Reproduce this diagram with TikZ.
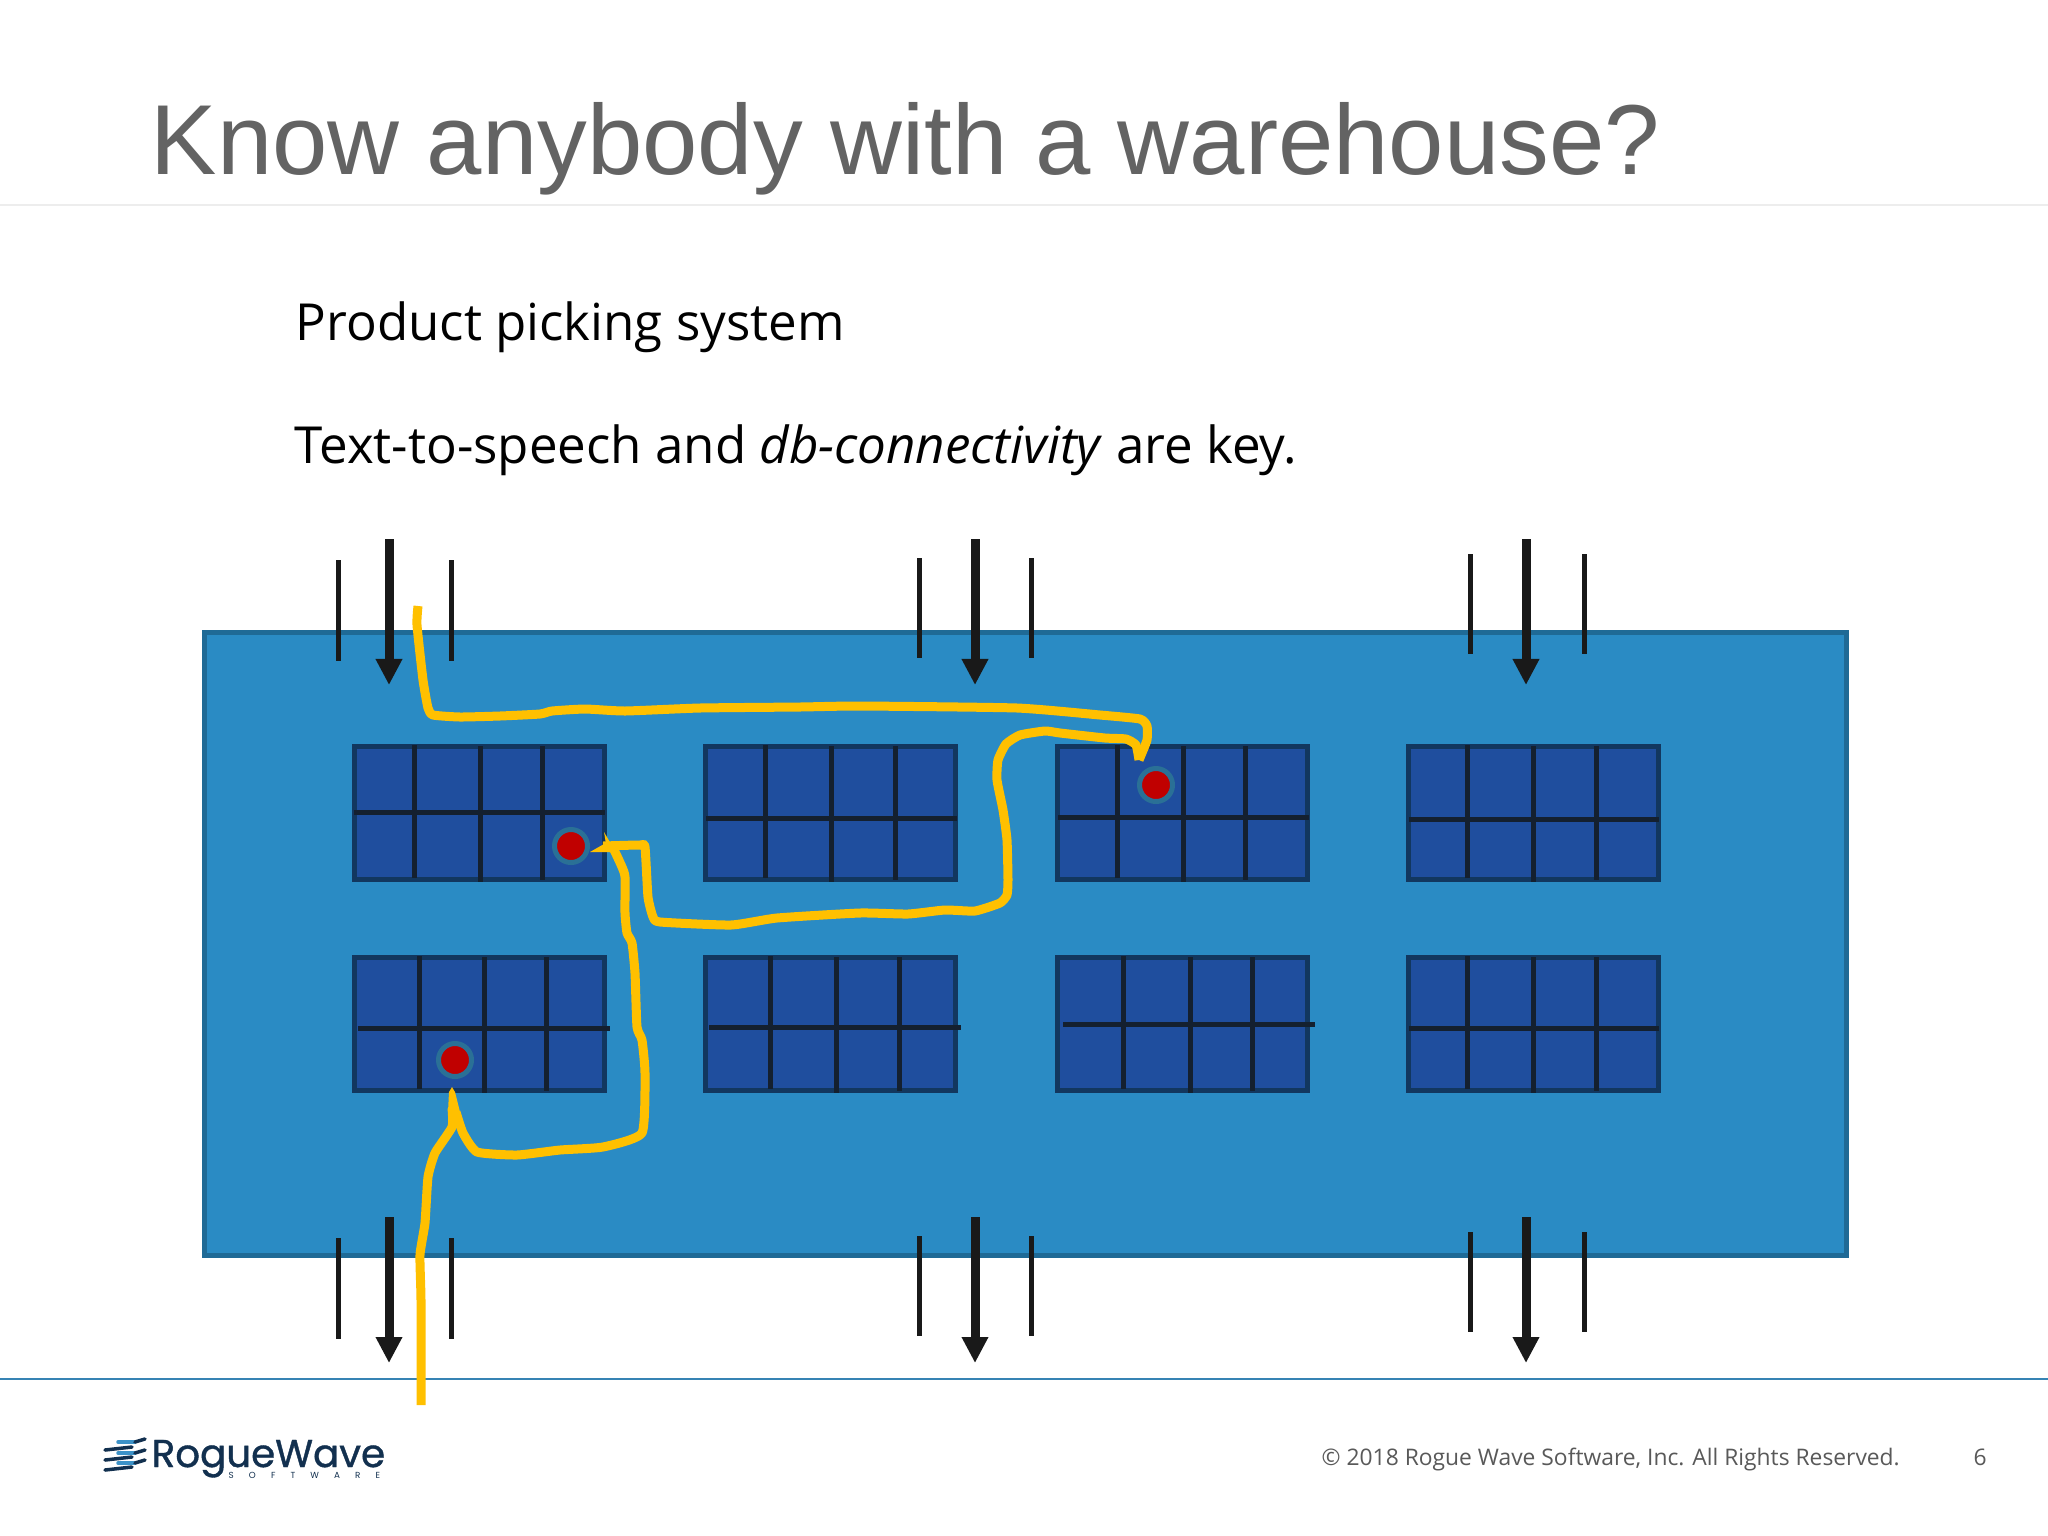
\documentclass[tikz,border=0pt]{standalone}
\usepackage{xcolor}
\usepackage{fontspec}
\usepackage{tikz}
\usetikzlibrary{arrows.meta}
\setmainfont{Open Sans}
\newfontfamily\titlefont{Liberation Sans}
\newfontfamily\logofont{Poppins}
\definecolor{floorblue}{HTML}{2A8BC4}
\definecolor{flooredge}{HTML}{1F6A96}
\definecolor{rackblue}{HTML}{1F4E9E}
\definecolor{rackedge}{HTML}{12375F}
\definecolor{rackline}{HTML}{14202F}
\definecolor{routeyellow}{HTML}{FFC000}
\definecolor{dotred}{HTML}{C00000}
\definecolor{dothalo}{HTML}{2A7096}
\definecolor{titlegray}{HTML}{636363}
\definecolor{footgray}{HTML}{595959}
\definecolor{logonavy}{HTML}{12304F}
\definecolor{logolight}{HTML}{3C92C8}
\tikzset{
	rackbox/.style={draw=rackedge,fill=rackblue,line width=0.05cm,minimum width=2.5cm,minimum height=1.33cm,inner sep=0pt,anchor=north west},
	rackgrid/.style={draw=rackline,line width=0.05cm},
	sideline/.style={draw=black!90,line width=0.05cm},
	bigarrow/.style={draw=black!90,line width=0.09cm,-{Triangle[length=2.6mm,width=2.5mm]}},
	route/.style={draw=routeyellow,line width=0.09cm,line join=round},
	pickdot/.style={circle,fill=dotred,draw=dothalo,line width=0.05cm,minimum size=0.33cm,inner sep=0pt},
	logowave/.style={line width=0.035cm,line cap=round},
}
\begin{document}
\begin{tikzpicture}[x=0.01cm,y=-0.01cm]
	\useasboundingbox (0,0) rectangle (2048,1536);
	\fill[white] (0,0) rectangle (2048,1536);
	
	\draw[black!7,line width=0.02cm] (0,205) -- (2048,205);
	\node[anchor=base west,inner sep=0pt,text=titlegray,font=\titlefont\fontsize{28.28pt}{30pt}\selectfont] (title) at (150,174) {Know anybody with a warehouse?};
	\node[anchor=base west,inner sep=0pt,font=\fontsize{14.52pt}{16pt}\selectfont] (bodyone) at (295,340) {Product picking system};
	\node[anchor=base west,inner sep=0pt,font=\fontsize{14.52pt}{16pt}\selectfont] (bodytwo) at (294,463) {Text-to-speech and \textit{db-connectivity} are key.};
	
	\draw[draw=flooredge,fill=floorblue,line width=0.05cm] (204,632) rectangle (1846,1255);
	
	% racks: x, y, three uprights, shelf, shelf ends
	\foreach \rname/\rx/\ry/\va/\vb/\vc/\sy/\sa/\sb in {
		rackA/352/744/414/480/542/812/354/605,
		rackB/703/744/765/831/895/818/706/957,
		rackC/1055/744/1117/1183/1245/817/1058/1309,
		rackD/1406/744/1467/1533/1596/819/1409/1659,
		rackE/352/955/419/484/546/1028/358/610,
		rackF/703/955/770/836/899/1027/709/961,
		rackG/1055/955/1123/1190/1252/1024/1063/1315,
		rackH/1406/955/1467/1533/1596/1028/1409/1659}{
		\node[rackbox] (\rname) at (\rx,\ry) {};
		\draw[rackgrid] (\va,\ry+1) -- (\va,\ry+134);
		\draw[rackgrid] (\vb,\ry+2) -- (\vb,\ry+138);
		\draw[rackgrid] (\vc,\ry+2) -- (\vc,\ry+136);
		\draw[rackgrid] (\sa,\sy) -- (\sb,\sy);
	}
	
	% dock doors
	\foreach \ax/\la/\lb/\ta/\tb/\ba/\bb in {
		389/338/451/560/661/1238/1339,
		975/919/1031/558/658/1236/1336,
		1526/1470/1584/554/654/1232/1332}{
		\draw[sideline] (\la,\ta) -- (\la,\tb);
		\draw[sideline] (\lb,\ta) -- (\lb,\tb);
		\draw[bigarrow] (\ax,539) -- (\ax,685);
		\draw[sideline] (\la,\ba) -- (\la,\bb);
		\draw[sideline] (\lb,\ba) -- (\lb,\bb);
		\draw[bigarrow] (\ax,1217) -- (\ax,1363);
	}
	
	\draw[draw=logolight!90!black,line width=0.02cm] (0,1379) -- (2048,1379);
	
	\node[pickdot] (dotA) at (571,846) {};
	\node[pickdot] (dotB) at (1156,785) {};
	\node[pickdot] (dotC) at (455,1060) {};
	
	% picker route
	\draw[route] plot[smooth,tension=0.3] coordinates {(418,606) (417,625) (423,680) (428,708) (433,715) (460,717) (500,716) (540,714) (552,711) (585,709) (625,711) (700,708) (800,707) (860,706) (1017,708) (1100,715) (1140,719) (1147,726) (1147,740) (1139,760)};
	\draw[route] plot[smooth,tension=0.3] coordinates {(1139,760) (1136,745) (1126,739) (1105,738) (1060,733) (1045,731) (1020,735) (1006,744) (998,760) (997,780) (1003,810) (1007,840) (1008,880) (1007,895) (1000,903) (975,911) (945,910) (908,914) (860,913) (777,918) (731,925) (660,922) (653,917) (648,897) (645,847) (640,845) (603,846)};
	\fill[routeyellow] (590,852) -- (604,844) -- (612,844) -- (612,852) -- cycle;
	\fill[routeyellow] (604,832) -- (611,844) -- (606,844) -- cycle;
	\draw[route] plot[smooth,tension=0.3] coordinates {(608,848) (613,848) (622,867) (625,877) (625,913) (627,933) (632,943) (635,973) (637,1027) (642,1040) (645,1073) (642,1133) (603,1147) (560,1150) (517,1155) (477,1152) (463,1133) (456,1112)};
	\fill[routeyellow] (448,1112) -- (449,1092) -- (452,1087) -- (455,1092) -- (460,1112) -- cycle;
	\draw[route] plot[smooth,tension=0.3] coordinates {(452,1108) (452,1127) (435,1153) (428,1177) (425,1223) (420,1255) (421,1300) (421,1405)};
	
	% logo
	\draw[logowave,logonavy] (105,1450) -- (132,1447);
	\draw[logowave,logolight] (118,1442) -- (135,1442);
	\draw[logowave,logonavy] (135,1442) -- (145,1439);
	\draw[logowave,logolight] (118,1453) -- (135,1453);
	\draw[logowave,logonavy] (135,1453) -- (145,1450);
	\draw[logowave,logonavy] (105,1460) -- (132,1457);
	\draw[logowave,logolight] (118,1463) -- (135,1463);
	\draw[logowave,logonavy] (135,1463) -- (145,1460);
	\draw[logowave,logonavy] (105,1470) -- (132,1467);
	\node[anchor=base west,inner sep=0pt,text=logonavy,font=\logofont\fontsize{11.03pt}{12pt}\selectfont\addfontfeature{FakeBold=1}] (logoname) at (151,1467) {RogueWave};
	\node[anchor=base west,inner sep=0pt,text=logonavy,font=\logofont\fontsize{2.5pt}{3pt}\selectfont\addfontfeature{LetterSpace=172}] (logosub) at (228,1478) {SOFTWARE};
	
	% footer
	\node[anchor=base west,inner sep=0pt,text=footgray,font=\fontsize{6.49pt}{8pt}\selectfont] (copyright) at (1321,1465) {© 2018 Rogue Wave Software, Inc. All Rights Reserved.};
	\node[anchor=base west,inner sep=0pt,text=footgray,font=\fontsize{6.49pt}{8pt}\selectfont] (pagenum) at (1973,1465) {6};
\end{tikzpicture}
\end{document}
